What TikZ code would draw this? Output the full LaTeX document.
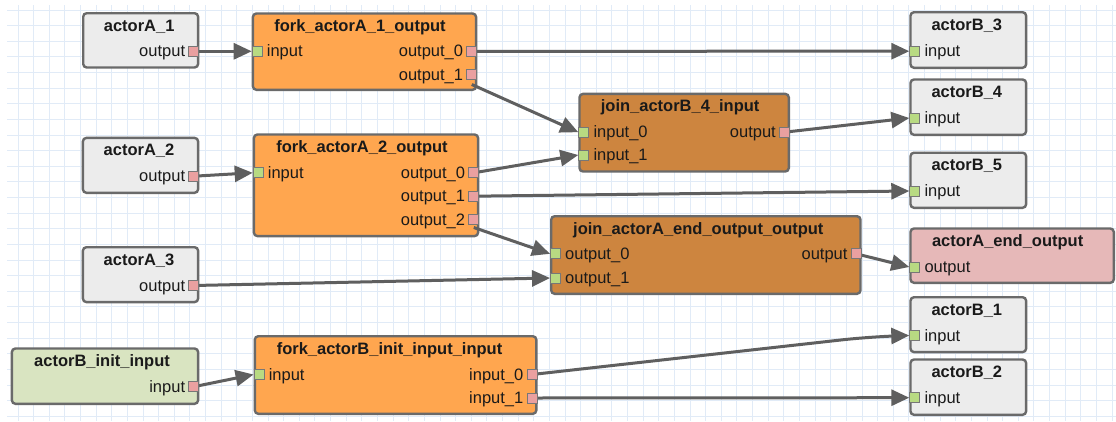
\documentclass[tikz,border=0pt]{standalone}
\usepackage{fontspec}
\setmainfont{Liberation Sans}
\usetikzlibrary{arrows.meta}

\definecolor{gridblue}{HTML}{E1EBF7}
\definecolor{boxline}{HTML}{6A6A6A}
\definecolor{actorgray}{HTML}{ECECEC}
\definecolor{forkorange}{HTML}{FFA64F}
\definecolor{joinbrown}{HTML}{CD853F}
\definecolor{endpink}{HTML}{E6B8B8}
\definecolor{initgreen}{HTML}{D9E4C1}
\definecolor{portgreen}{HTML}{B8DA82}
\definecolor{portpink}{HTML}{EAA0A0}
\definecolor{portline}{HTML}{777777}
\definecolor{linkgray}{HTML}{5F5F5F}
\definecolor{txt}{HTML}{1A1A1A}

\pgfdeclarelayer{portlayer}
\pgfsetlayers{main,portlayer}

\tikzset{
  gridline/.style={draw=gridblue, line width=1pt},
  blk/.style={draw=boxline, line width=2.4pt, rounded corners=3.5pt,
              inner sep=0pt, anchor=north west},
  actorbox/.style={blk, fill=actorgray},
  forkbox/.style={blk, fill=forkorange},
  joinbox/.style={blk, fill=joinbrown},
  endbox/.style={blk, fill=endpink},
  initbox/.style={blk, fill=initgreen},
  ttl/.style={font=\bfseries\fontsize{16.5}{18}\selectfont, text=txt,
              inner sep=0pt},
  lbl/.style={font=\fontsize{16.5}{18}\selectfont, text=txt, inner sep=0pt},
  portbase/.style={draw=portline, line width=1pt, minimum size=10pt,
                   inner sep=0pt},
  portin/.style={portbase, fill=portgreen},
  portout/.style={portbase, fill=portpink},
  link/.style={draw=linkgray, line width=3pt,
               -{Triangle[length=18pt,width=16pt]}},
}

% block: name, style, left, top, right, bottom, title, title x-offset
\newcommand{\drawblock}[8]{%
  \pgfmathsetmacro\bkw{#5-#3-2.4}%
  \pgfmathsetmacro\bkh{#6-#4-2.4}%
  \node[#2, minimum width=\bkw pt, minimum height=\bkh pt] (#1) at (#3,#4) {};
  \node[ttl, anchor=base] (#1-t) at ({(#3+#5)/2+#8},{#4+19}) {#7};
}
% ports: name, x, y, label
\newcommand{\inport}[4]{%
  \node[portin] (#1) at (#2,#3) {};
  \node[lbl, anchor=base west] (#1-l) at ({#2+9.5},{#3+5.5}) {#4};
}
\newcommand{\outport}[4]{%
  \node[portout] (#1) at (#2,#3) {};
  \node[lbl, anchor=base east] (#1-l) at ({#2-8.5},{#3+5.5}) {#4};
}

\begin{document}
\begin{tikzpicture}[x=1pt, y=-1pt]
\useasboundingbox (0,0) rectangle (1116,421);
\fill[white] (0,0) rectangle (1116,421);

% background grid
\foreach \i in {0,...,70} {
  \draw[gridline] ({18+15.63*\i},5) -- ({18+15.63*\i},421);
}
\foreach \j in {0,...,26} {
  \draw[gridline] (7,{10+15.63*\j}) -- (1116,{10+15.63*\j});
}

% blocks
\drawblock{aA1}{actorbox}{82}{12}{199.3}{68.7}{actorA\_1}{-1.5}
\drawblock{fA1}{forkbox}{251.7}{12.3}{477.3}{91}{fork\_actorA\_1\_output}{-4.5}
\drawblock{bB3}{actorbox}{909.3}{11}{1027.3}{69}{actorB\_3}{-1.5}
\drawblock{bB4}{actorbox}{909.3}{78.3}{1027.3}{136}{actorB\_4}{-1.5}
\drawblock{jB4}{joinbox}{578.3}{92.7}{790}{172.7}{join\_actorB\_4\_input}{-4}
\drawblock{aA2}{actorbox}{81.7}{136.7}{199.3}{194}{actorA\_2}{-1.5}
\drawblock{fA2}{forkbox}{252.7}{133.3}{479.3}{237.3}{fork\_actorA\_2\_output}{-4}
\drawblock{bB5}{actorbox}{909.3}{151.5}{1027.3}{209}{actorB\_5}{-1.5}
\drawblock{jAe}{joinbox}{550}{215}{861.7}{295}{join\_actorA\_end\_output\_output}{-7.5}
\drawblock{aAe}{endbox}{909.3}{227.3}{1115}{284}{actorA\_end\_output}{-4.5}
\drawblock{aA3}{actorbox}{81.7}{246}{199.3}{303.3}{actorA\_3}{-1.5}
\drawblock{bB1}{actorbox}{909.3}{296}{1027.3}{353.3}{actorB\_1}{-1.5}
\drawblock{bB2}{actorbox}{909.3}{358.3}{1027.3}{416}{actorB\_2}{-1.5}
\drawblock{bIn}{initbox}{10.7}{347.3}{199.3}{405}{actorB\_init\_input}{-3}
\drawblock{fBi}{forkbox}{253.6}{335}{537.5}{415}{fork\_actorB\_init\_input\_input}{-6}

% ports (kept above the links)
\begin{pgfonlayer}{portlayer}
\outport{aA1-out}{193.8}{51.3}{output}
\inport{fA1-in}{257.2}{51.3}{input}
\outport{fA1-o0}{471.8}{51.3}{output\_0}
\outport{fA1-o1}{471.8}{74.5}{output\_1}
\inport{bB3-in}{914.8}{51.2}{input}
\inport{bB4-in}{914.8}{118}{input}
\inport{jB4-i0}{583.8}{132.2}{input\_0}
\inport{jB4-i1}{583.8}{155}{input\_1}
\outport{jB4-out}{784.5}{132.2}{output}
\outport{aA2-out}{193.8}{176.2}{output}
\inport{fA2-in}{258.2}{172.8}{input}
\outport{fA2-o0}{473.8}{172.8}{output\_0}
\outport{fA2-o1}{473.8}{196.2}{output\_1}
\outport{fA2-o2}{473.8}{219.5}{output\_2}
\inport{bB5-in}{914.8}{191}{input}
\inport{jAe-o0}{555.5}{253.8}{output\_0}
\inport{jAe-o1}{555.5}{278}{output\_1}
\outport{jAe-out}{856.2}{253.8}{output}
\inport{aAe-in}{914.8}{267}{output}
\outport{aA3-out}{193.8}{285.5}{output}
\inport{bB1-in}{914.8}{335.5}{input}
\inport{bB2-in}{914.8}{397.7}{input}
\outport{bIn-out}{193.8}{386.7}{input}
\inport{fBi-in}{259.1}{374.5}{input}
\outport{fBi-i0}{532}{374.5}{input\_0}
\outport{fBi-i1}{532}{398}{input\_1}
\end{pgfonlayer}

% links
\coordinate (bend1) at (872,336.5);
\draw[link] (aA1-out.center) -- (fA1-in.west);
\draw[link] (fA1-o0.center) -- (bB3-in.west);
\draw[link] ([yshift=-10pt]fA1-o1.center) -- (jB4-i0.west);
\draw[link] (fA2-o0.center) -- (jB4-i1.west);
\draw[link] (jB4-out.center) -- (bB4-in.west);
\draw[link] (aA2-out.center) -- (fA2-in.west);
\draw[link] (fA2-o1.center) -- (bB5-in.west);
\draw[link] ([yshift=-8pt]fA2-o2.center) -- (jAe-o0.west);
\draw[link] (aA3-out.center) -- (jAe-o1.west);
\draw[link] (jAe-out.center) -- (aAe-in.west);
\draw[link] (bIn-out.center) -- (fBi-in.west);
\draw[link, rounded corners=30pt] (fBi-i0.center) -- (bend1) -- (bB1-in.west);
\draw[link] (fBi-i1.center) -- (bB2-in.west);
\end{tikzpicture}
\end{document}
